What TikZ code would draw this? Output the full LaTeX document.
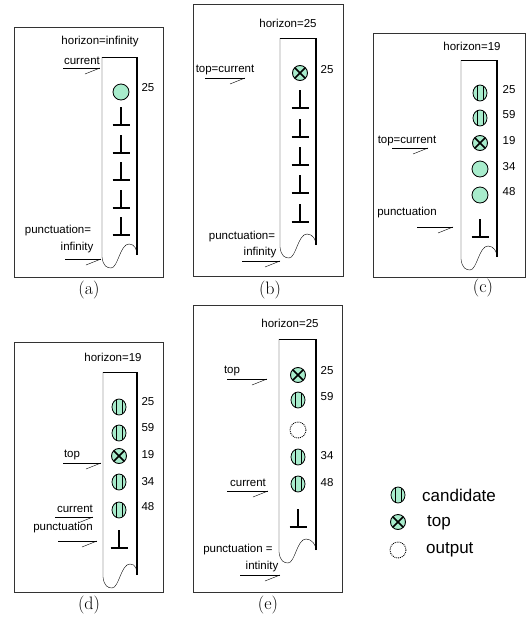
\documentclass[tikz,border=0pt]{standalone}
\usepackage{fontspec}
\newfontfamily\arialf{Liberation Sans}
\definecolor{mint}{RGB}{168,236,204}
\newcommand\mytube[4]{%
  \draw[thin] (#1,#3) -- (#2,#3);
  \draw[thin] (#1,#3) -- (#1,#4) .. controls +(1,9) and +(-4,0) .. ++(9,11)
     .. controls +(7,0) and +(-9,0) .. ++(18,-24)
     .. controls +(6,0) and +(0,-5) .. (#2,{#4-2});
  \draw[line width=1.7pt] (#2,#3) -- (#2,{#4-2});
}
% half arrow: x1, x2, y
\newcommand\myarrow[3]{%
  \draw[thin] (#1,#3) -- (#2,#3);
  \draw[thin] ({#2-15},{#3+6}) -- (#2,#3);
}
\tikzset{
  lbl/.style={font=\arialf\fontsize{11.5}{12}\selectfont, inner sep=0pt},
  leg/.style={font=\arialf\fontsize{17}{18}\selectfont, inner sep=0pt, anchor=west},
  capt/.style={font=\fontsize{18}{20}\selectfont, inner sep=0pt},
  frame/.style={draw=black!80, line width=0.9pt},
  cand/.pic={
    \draw[fill=mint, line width=0.8pt] (0,0) ellipse [x radius=7, y radius=8];
    \draw[line width=0.8pt] (-3,-7.2) -- (-3,7.2) (3,-7.2) -- (3,7.2);
  },
  topc/.pic={
    \draw[fill=mint, line width=0.9pt] (0,0) circle [radius=7.5];
    \draw[line width=1.5pt] (-5.3,-5.3) -- (5.3,5.3) (-5.3,5.3) -- (5.3,-5.3);
  },
  plainc/.pic={
    \draw[fill=mint, line width=0.8pt] (0,0) circle [radius=8];
  },
  outc/.pic={
    \draw[densely dotted, line width=0.9pt] (0,0) circle [radius=8];
  },
  perp/.pic={
    \draw[line width=2pt] (0,0) -- (0,-18) (-8.5,0) -- (8.5,0);
  }
}
\begin{document}
\begin{tikzpicture}[x=1pt,y=-1pt]
\useasboundingbox[fill=white] (0,0) rectangle (529,619);

% ---------- (a)
\draw[frame] (14,27) rectangle (163,277);
\node[capt] (capa) at (89,290) {(a)};
\mytube{102}{137}{57}{257}
\node[lbl] (ha) at (100,42) {horizon=infinity};
\node[lbl] (cura) at (82,61) {current};
\myarrow{63}{100}{68}
\pic at (121,92) {plainc};
\node[lbl] (a25) at (148,88) {25};
\foreach \y in {125,153,180,208,235} \pic at (121,\y) {perp};
\node[lbl] (pa1) at (58,231) {punctuation=};
\node[lbl] (pa2) at (77,248) {infinity};
\myarrow{65}{101}{259}

% ---------- (b)
\draw[frame] (193,4) rectangle (343,276);
\node[capt] (capb) at (270,290) {(b)};
\mytube{280}{316}{38}{247}
\node[lbl] (hb) at (288,23) {horizon=25};
\pic at (300,73) {topc};
\node[lbl] (b25) at (327,70) {25};
\node[lbl] (tcb) at (225,70) {top=current};
\myarrow{205}{245}{78}
\foreach \y in {108,137,165,193,222} \pic at (300,\y) {perp};
\node[lbl] (pb1) at (242,237) {punctuation=};
\node[lbl] (pb2) at (260,253) {infinity};
\myarrow{242}{280}{261}

% ---------- (c)
\draw[frame] (373,33) rectangle (525,277);
\node[capt] (capc) at (483,288) {(c)};
\mytube{461}{497}{60}{259}
\node[lbl] (hc) at (472,46) {horizon=19};
\pic at (480,93) {cand};
\pic at (480,118) {cand};
\pic at (480,143) {topc};
\pic at (480,169) {plainc};
\pic at (480,195) {plainc};
\node[lbl] (c25) at (509,90) {25};
\node[lbl] (c59) at (509,115) {59};
\node[lbl] (c19) at (509,141) {19};
\node[lbl] (c34) at (509,167) {34};
\node[lbl] (c48) at (509,192) {48};
\node[lbl] (tcc) at (407,141) {top=current};
\myarrow{392}{428}{148}
\node[lbl] (pc) at (407,213) {punctuation};
\myarrow{417}{453}{227}
\pic at (480,237) {perp};

% ---------- (d)
\draw[frame] (14,342) rectangle (163,592);
\node[capt] (capd) at (89,605) {(d)};
\mytube{103}{137}{372}{577}
\node[lbl] (hd) at (113,357) {horizon=19};
\pic at (119,407) {cand};
\pic at (119,433) {cand};
\pic at (119,456) {topc};
\pic at (119,482) {cand};
\pic at (119,510) {cand};
\node[lbl] (d25) at (148,402) {25};
\node[lbl] (d59) at (148,428) {59};
\node[lbl] (d19) at (148,455) {19};
\node[lbl] (d34) at (148,482) {34};
\node[lbl] (d48) at (148,507) {48};
\pic at (119,548) {perp};
\node[lbl] (td) at (72,455) {top};
\myarrow{63}{101}{463}
\node[lbl] (cd) at (75,509) {current};
\myarrow{55}{93}{517}
\node[lbl] (pd) at (63,528) {punctuation};
\myarrow{58}{97}{541}

% ---------- (e)
\draw[frame] (193,305) rectangle (342,592);
\node[capt] (cape) at (268,605) {(e)};
\mytube{279}{316}{339}{552}
\node[lbl] (he) at (290,323) {horizon=25};
\pic at (298,375) {topc};
\pic at (298,400) {cand};
\pic at (298,430) {outc};
\pic at (298,457) {cand};
\pic at (298,484) {cand};
\node[lbl] (e25) at (327,371) {25};
\node[lbl] (e59) at (327,397) {59};
\node[lbl] (e34) at (327,456) {34};
\node[lbl] (e48) at (327,483) {48};
\pic at (298,527) {perp};
\node[lbl] (te) at (232,371) {top};
\myarrow{227}{267}{379}
\node[lbl] (ce) at (248,483) {current};
\myarrow{227}{268}{491}
\node[lbl] (pe1) at (238,550) {punctuation =};
\node[lbl] (pe2) at (262,567) {intinity};
\myarrow{240}{280}{575}

% ---------- legend
\pic at (398,495) {cand};
\node[leg] (lc) at (422,495) {candidate};
\pic at (398,522) {topc};
\node[leg] (lt) at (427,523) {top};
\pic at (398,550) {outc};
\node[leg] (lo) at (426,550) {output};
\end{tikzpicture}
\end{document}
